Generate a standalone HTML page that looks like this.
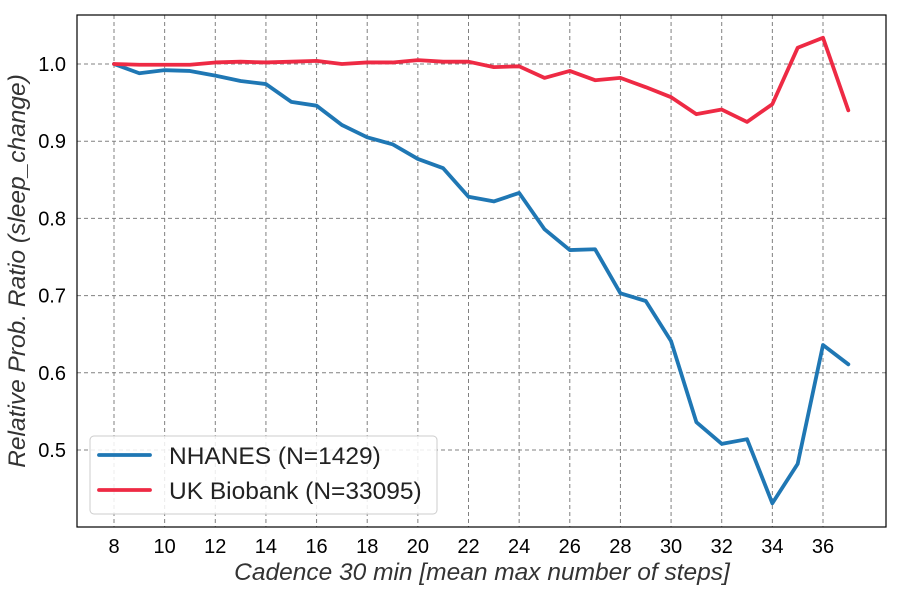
<!DOCTYPE html>
<html><head><meta charset="utf-8"><style>
body{margin:0;background:#fff;}
svg text{font-family:"Liberation Sans",Arial,sans-serif;}
</style></head><body>
<svg id="chart" width="900" height="600"></svg>
<script>
const xValues=[8,9,10,11,12,13,14,15,16,17,18,19,20,21,22,23,24,25,26,27,28,29,30,31,32,33,34,35,36,37];
const nhanes=[1.0,0.988,0.992,0.991,0.985,0.978,0.974,0.951,0.946,0.921,0.905,0.896,0.877,0.865,0.828,0.822,0.833,0.786,0.759,0.760,0.703,0.693,0.641,0.536,0.508,0.514,0.431,0.482,0.636,0.611];
const ukb=[1.0,0.999,0.999,0.999,1.002,1.003,1.002,1.003,1.004,1.0,1.002,1.002,1.005,1.003,1.003,0.996,0.997,0.982,0.991,0.979,0.982,0.970,0.957,0.935,0.941,0.925,0.948,1.021,1.034,0.940];
const xTicks=[8,10,12,14,16,18,20,22,24,26,28,30,32,34,36];
const yTicks=[0.5,0.6,0.7,0.8,0.9,1.0];
const seriesNames=["NHANES (N=1429)","UK Biobank (N=33095)"];

const NS="http://www.w3.org/2000/svg";
const svg=document.getElementById('chart');
const L=77,R=886,T=15,B=527;
function sx(v){return 114+(v-8)*(823-114)/28;}
function sy(v){return 64+(1.0-v)*(450-64)/0.5;}
function mk(tag,attrs,parent){const e=document.createElementNS(NS,tag);for(const k in attrs)e.setAttribute(k,attrs[k]);(parent||svg).appendChild(e);return e;}

const grid=mk('g',{});


xTicks.forEach(t=>{
  mk('line',{x1:sx(t),x2:sx(t),y1:T,y2:B,stroke:'#808080','stroke-dasharray':'4,3','stroke-width':1},grid);
  const tx=mk('text',{x:sx(t),y:553,'text-anchor':'middle','font-size':20},grid);
  tx.textContent=t;
  
  
});
yTicks.forEach(t=>{
  mk('line',{x1:L,x2:R,y1:sy(t),y2:sy(t),stroke:'#808080','stroke-dasharray':'4,3','stroke-width':1},grid);
  const tx=mk('text',{x:L-11,y:sy(t)+7,'text-anchor':'end','font-size':20},grid);
  tx.textContent=t.toFixed(1);
  
  
});

function line(vals,color,name){
  const p=mk('polyline',{points:vals.map((v,i)=>sx(xValues[i])+','+sy(v)).join(' '),fill:'none',stroke:color,'stroke-width':3.8,'stroke-linejoin':'round','stroke-linecap':'round'});
  
  
}
line(nhanes,'#1f77b4','nhanes-line');
line(ukb,'#ee2a44','ukb-line');

const frame=mk('rect',{x:L,y:T,width:R-L,height:B-T,fill:'none',stroke:'#000','stroke-width':1.2});



const xt=mk('text',{x:482,y:580,'text-anchor':'middle','font-size':24.5,'font-style':'italic',fill:'#333'});
xt.textContent='Cadence 30 min [mean max number of steps]';


const yt=mk('text',{x:0,y:0,'text-anchor':'middle','font-size':24.5,'font-style':'italic',fill:'#333',transform:'translate(25,271) rotate(-90)'});
yt.textContent='Relative Prob. Ratio (sleep_change)';



const lg=mk('g',{});


mk('rect',{x:90,y:436,width:347,height:78,rx:4,fill:'rgba(255,255,255,0.85)',stroke:'#ccc'},lg);
[['#1f77b4',455],['#ee2a44',490]].forEach((c,i)=>{
  const e=mk('g',{},lg);
  
  
  mk('line',{x1:99,x2:150,y1:c[1],y2:c[1],stroke:c[0],'stroke-width':3.8,'stroke-linecap':'round'},e);
  const t=mk('text',{x:169,y:c[1]+9,'font-size':24.5,fill:'#222'},e);
  t.textContent=seriesNames[i];
});
</script>
</body></html>
